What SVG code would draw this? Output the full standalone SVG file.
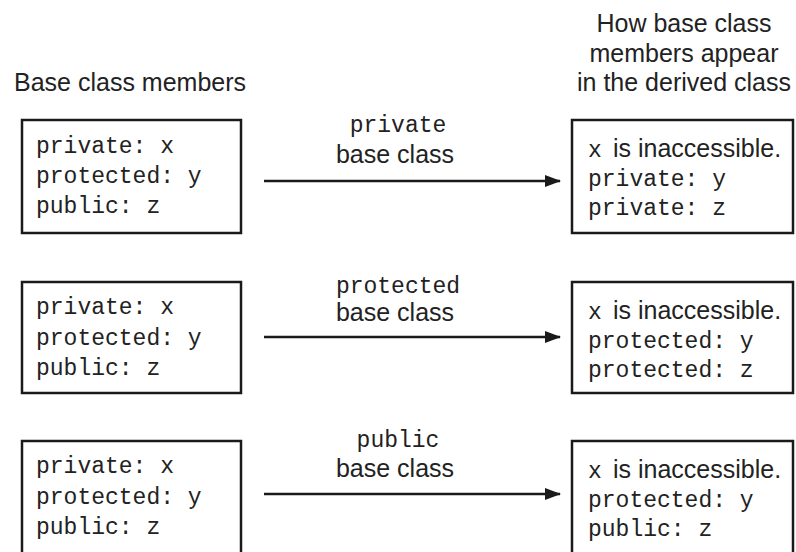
<svg xmlns="http://www.w3.org/2000/svg" width="796" height="552" viewBox="0 0 796 552">
<defs>
<style>
.box{fill:#fff;stroke:#1a1a1a;stroke-width:2.5}
.mono{font-family:"Liberation Mono","Courier New",monospace;font-size:23px;fill:#222}
.sans{font-family:"Liberation Sans",Arial,sans-serif;font-size:25px;fill:#222}
.conn{stroke:#1a1a1a;stroke-width:2.5;fill:none}
</style>
<marker id="arr" markerWidth="16" markerHeight="12" refX="15" refY="6" orient="auto" markerUnits="userSpaceOnUse">
<path d="M0,0 L16,6 L0,12 Z" fill="#1a1a1a"/>
</marker>
</defs>
<rect width="796" height="552" fill="#fff"/>
<text class="sans" x="14" y="91">Base class members</text>
<text class="sans" text-anchor="middle"><tspan x="684" y="32">How base class</tspan><tspan x="684" y="61.5">members appear</tspan><tspan x="684" y="91">in the derived class</tspan></text>

<g id="base1">
<rect class="box" x="22" y="120" width="219" height="113"/>
<text class="mono"><tspan x="36" y="153">private: x</tspan><tspan x="36" y="183">protected: y</tspan><tspan x="36" y="213">public: z</tspan></text>
</g>
<g id="base2">
<rect class="box" x="22" y="282" width="219" height="111"/>
<text class="mono"><tspan x="36" y="314">private: x</tspan><tspan x="36" y="345">protected: y</tspan><tspan x="36" y="375">public: z</tspan></text>
</g>
<g id="base3">
<rect class="box" x="22" y="441" width="219" height="130"/>
<text class="mono"><tspan x="36" y="473">private: x</tspan><tspan x="36" y="504">protected: y</tspan><tspan x="36" y="534">public: z</tspan></text>
</g>

<g id="derived1">
<rect class="box" x="572" y="120" width="221" height="113"/>
<text class="mono" x="588" y="157">x</text><text class="sans" x="613" y="157">is inaccessible.</text>
<text class="mono"><tspan x="588" y="186">private: y</tspan><tspan x="588" y="215">private: z</tspan></text>
</g>
<g id="derived2">
<rect class="box" x="572" y="282" width="221" height="111"/>
<text class="mono" x="588" y="319">x</text><text class="sans" x="613" y="319">is inaccessible.</text>
<text class="mono"><tspan x="588" y="348">protected: y</tspan><tspan x="588" y="377">protected: z</tspan></text>
</g>
<g id="derived3">
<rect class="box" x="572" y="441" width="221" height="130"/>
<text class="mono" x="588" y="478">x</text><text class="sans" x="613" y="478">is inaccessible.</text>
<text class="mono"><tspan x="588" y="507">protected: y</tspan><tspan x="588" y="536">public: z</tspan></text>
</g>

<g id="connectors">
<line class="conn" x1="264" y1="181" x2="560" y2="181" marker-end="url(#arr)"/>
<line class="conn" x1="264" y1="337" x2="560" y2="337" marker-end="url(#arr)"/>
<line class="conn" x1="264" y1="494" x2="560" y2="494" marker-end="url(#arr)"/>
<text class="mono" x="398" y="132" text-anchor="middle">private</text>
<text class="sans" x="395" y="163" text-anchor="middle">base class</text>
<text class="mono" x="398" y="293" text-anchor="middle">protected</text>
<text class="sans" x="395" y="321" text-anchor="middle">base class</text>
<text class="mono" x="398" y="447" text-anchor="middle">public</text>
<text class="sans" x="395" y="477" text-anchor="middle">base class</text>
</g>
</svg>
